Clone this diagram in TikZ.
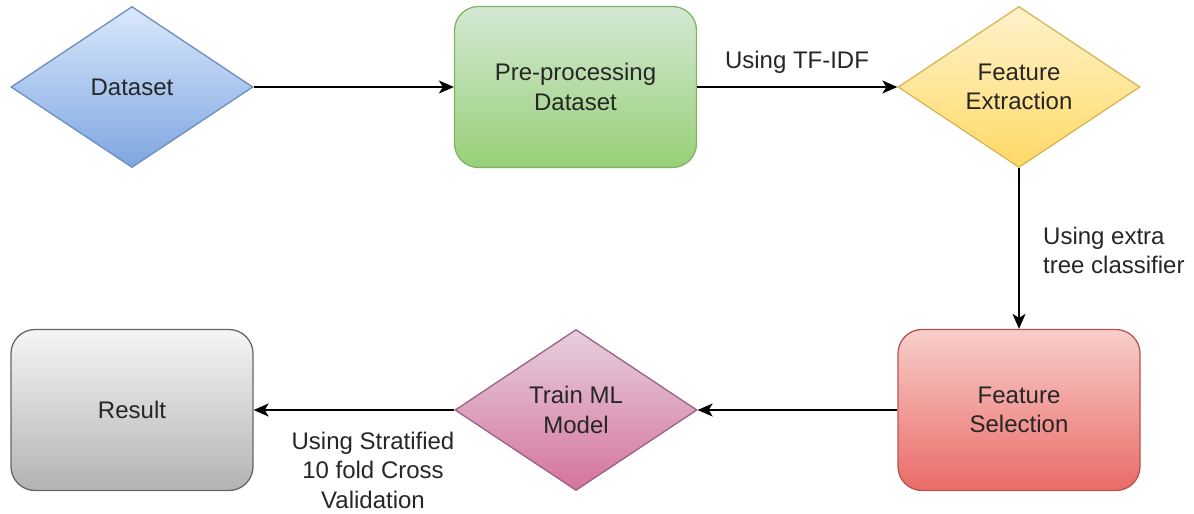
\documentclass[tikz,border=0pt]{standalone}
\usepackage{fontspec}
\setmainfont{Liberation Sans}
\usetikzlibrary{shapes.geometric,arrows.meta}

\definecolor{txt}{HTML}{262626}
\tikzset{
  lbl/.style={font=\fontsize{24}{29.5}\selectfont, text=txt, align=center, inner sep=0pt},
  rbox/.style={lbl, rectangle, rounded corners=24pt, minimum width=242pt, minimum height=161pt, line width=1.3pt},
  dbox/.style={lbl, diamond, aspect=1.5, minimum width=242pt, minimum height=161pt, line width=1.3pt},
  flow/.style={line width=1.8pt, -{Stealth[length=15pt,width=13pt,inset=4pt]}},
  elabel/.style={lbl, fill=none}
}

\begin{document}
\begin{tikzpicture}[x=1pt,y=-1pt]
  \useasboundingbox (0,0) rectangle (1194,514);

  % process steps
  \node[dbox, top color={rgb,255:red,218;green,232;blue,252}, bottom color={rgb,255:red,126;green,166;blue,224}, draw={rgb,255:red,108;green,142;blue,191}] (ds) at (132,87) {Dataset};
  \node[rbox, top color={rgb,255:red,213;green,232;blue,212}, bottom color={rgb,255:red,151;green,208;blue,119}, draw={rgb,255:red,130;green,179;blue,102}] (pp) at (575.5,87) {Pre-processing\\Dataset};
  \node[dbox, top color={rgb,255:red,255;green,242;blue,204}, bottom color={rgb,255:red,255;green,217;blue,102}, draw={rgb,255:red,214;green,182;blue,86}] (fe) at (1019,87) {Feature\\Extraction};
  \node[rbox, top color={rgb,255:red,248;green,206;blue,204}, bottom color={rgb,255:red,234;green,107;blue,102}, draw={rgb,255:red,184;green,84;blue,80}] (fs) at (1019,410) {Feature\\Selection};
  \node[dbox, top color={rgb,255:red,230;green,208;blue,222}, bottom color={rgb,255:red,213;green,115;blue,157}, draw={rgb,255:red,153;green,97;blue,133}] (ml) at (576,410) {Train ML\\Model};
  \node[rbox, top color={rgb,255:red,245;green,245;blue,245}, bottom color={rgb,255:red,179;green,179;blue,179}, draw={rgb,255:red,102;green,102;blue,102}] (res) at (132,410) {Result};

  % connectors
  \draw[flow] (ds.east) -- (pp.west);
  \draw[flow] (pp.east) -- (fe.west);
  \draw[flow] (fe.south) -- (fs.north);
  \draw[flow] (fs.west) -- (ml.east);
  \draw[flow] (ml.west) -- (res.east);

  % connector labels
  \node[elabel] (l1) at (797,62) {Using TF-IDF};
  \node[elabel, anchor=west, align=left] (l2) at (1043,250.5) {Using extra\\tree classifier};
  \node[elabel] (l3) at (373,470) {Using Stratified\\10 fold Cross\\Validation};
\end{tikzpicture}
\end{document}
